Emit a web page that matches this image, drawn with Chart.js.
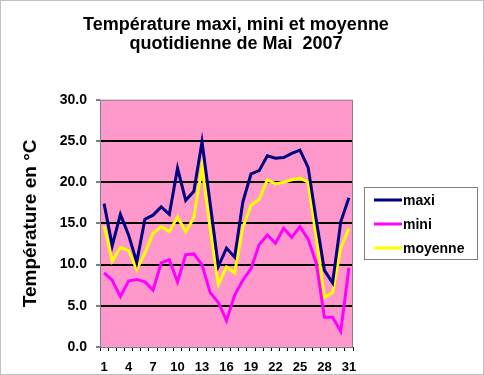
<!DOCTYPE html>
<html>
<head>
<meta charset="utf-8">
<script src="https://cdn.jsdelivr.net/npm/chart.js@4"></script>
<style>
  body { margin: 0; background: #fff; }
  canvas { display: block; }
</style>
</head>
<body>
<canvas id="myChart" width="484" height="375"></canvas>
<script>
const days = ['1','2','3','4','5','6','7','8','9','10','11','12','13','14','15','16',
  '17','18','19','20','21','22','23','24','25','26','27','28','29','30','31']
const maxi = [17.4,12.3,16.1,13.6,10.3,15.5,16.0,17.0,16.1,21.7,17.8,18.9,24.9,17.4,9.8,12.0,
  10.9,17.6,21.0,21.4,23.2,22.9,23.0,23.5,23.9,21.8,15.4,9.3,7.8,15.2,18.1]
const mini = [9.0,8.1,6.1,8.0,8.2,7.9,6.9,10.2,10.6,7.9,11.2,11.3,10.0,6.6,5.4,3.2,
  6.3,8.1,9.5,12.4,13.6,12.6,14.4,13.3,14.6,13.1,10.2,3.6,3.6,1.9,9.6]
const moyenne = [14.7,10.4,12.1,11.7,9.4,11.4,13.8,14.6,14.0,15.8,14.0,15.7,21.9,14.3,7.6,9.7,
  9.0,14.5,17.2,17.9,20.3,19.8,20.0,20.3,20.5,20.0,13.3,6.0,6.6,12.0,14.4]
const yTicks = [0, 5, 10, 15, 20, 25, 30]

const FONT = "'Liberation Sans', Arial, sans-serif"

// pink dotted plot background, plot border, outer frame and the legend box
const decor = {
  id: 'decor',
  beforeDraw(chart) {
    const {ctx, chartArea: a} = chart
    ctx.save()
    ctx.fillStyle = '#fff'
    ctx.fillRect(0, 0, chart.width, chart.height)
    ctx.fillStyle = '#FF99CC'
    ctx.fillRect(a.left, a.top, a.right - a.left, a.bottom - a.top)
    ctx.fillStyle = '#e98dbb'
    for (let y = a.top + 4; y < a.bottom; y += 8) {
      for (let x = a.left + 4; x < a.right; x += 8) ctx.fillRect(x, y, 1, 1)
    }
    ctx.restore()
  },
  afterDraw(chart) {
    const {ctx, chartArea: a} = chart
    ctx.save()
    ctx.strokeStyle = '#808080'
    ctx.lineWidth = 1
    ctx.strokeRect(a.left + 0.5, a.top + 0.5, a.right - a.left - 1, a.bottom - a.top)
    ctx.setLineDash([1, 1])
    ctx.strokeRect(0.5, 0.5, chart.width - 1, chart.height - 1)
    ctx.setLineDash([])
    // legend
    const bx = 364, by = 187, bw = 113, bh = 72
    ctx.fillStyle = '#fff'
    ctx.fillRect(bx, by, bw, bh)
    ctx.strokeStyle = '#808080'
    ctx.strokeRect(bx + 0.5, by + 0.5, bw, bh)
    ctx.font = 'bold 14px ' + FONT
    ctx.textBaseline = 'middle'
    chart.data.datasets.forEach((ds, i) => {
      const y = by + 13 + i * 24
      ctx.strokeStyle = ds.borderColor
      ctx.lineWidth = 3
      ctx.beginPath()
      ctx.moveTo(374, y)
      ctx.lineTo(402, y)
      ctx.stroke()
      ctx.fillStyle = '#000'
      ctx.fillText(ds.label, 403, y + 1)
    })
    ctx.restore()
  }
}

const ctx = document.getElementById('myChart').getContext('2d')
const myChart = new Chart(ctx, {
  type: 'line',
  data: {
    labels: days,
    datasets: [
      {label: 'maxi', data: maxi, borderColor: '#000080'},
      {label: 'mini', data: mini, borderColor: '#FF00FF'},
      {label: 'moyenne', data: moyenne, borderColor: '#FFFF00'}
    ]
  },
  options: {
    responsive: false,
    animation: false,
    layout: {padding: {left: 0, right: 12, top: 0, bottom: 0}},
    elements: {
      line: {borderWidth: 3, tension: 0},
      point: {radius: 0}
    },
    plugins: {
      legend: {display: false},
      tooltip: {enabled: false},
      title: {
        display: true,
        text: ['Température maxi, mini et moyenne', 'quotidienne de Mai  2007'],
        color: '#000',
        font: {family: FONT, size: 18, weight: 'bold', lineHeight: 1.05},
        padding: {top: 16, bottom: 46}
      }
    },
    scales: {
      x: {
        offset: true,
        grid: {offset: true, drawOnChartArea: false, drawTicks: true, tickLength: 4, color: '#000'},
        border: {display: false},
        ticks: {
          autoSkip: false,
          maxRotation: 0,
          padding: 9,
          color: '#000',
          font: {family: FONT, size: 13, weight: 'bold'},
          callback: (v, i) => (i % 3 === 0 ? days[i] : '')
        },
        afterFit: (s) => { s.height = 28 }
      },
      y: {
        min: 0,
        max: 30,
        afterBuildTicks: (s) => { s.ticks = yTicks.map((v) => ({value: v})) },
        grid: {
          color: (c) => (c.tick && c.tick.value > 0 && c.tick.value < 30 ? '#000' : 'rgba(0,0,0,0)'),
          lineWidth: 2,
          tickColor: '#000',
          tickWidth: 1,
          tickLength: 4
        },
        border: {display: false},
        ticks: {
          padding: 9,
          color: '#000',
          font: {family: FONT, size: 14, weight: 'bold'},
          callback: (v) => v.toFixed(1)
        },
        title: {
          display: true,
          text: 'Température en °C',
          color: '#000',
          font: {family: FONT, size: 19, weight: 'bold'},
          padding: {top: 19, bottom: 0}
        },
        afterFit: (s) => { s.width = 100 }
      },
      // empty right-hand scale that keeps room for the legend
      yRight: {
        position: 'right',
        min: 0,
        max: 30,
        grid: {display: false},
        border: {display: false},
        ticks: {display: false},
        afterFit: (s) => { s.width = 119 }
      }
    }
  },
  plugins: [decor]
})
</script>
</body>
</html>
